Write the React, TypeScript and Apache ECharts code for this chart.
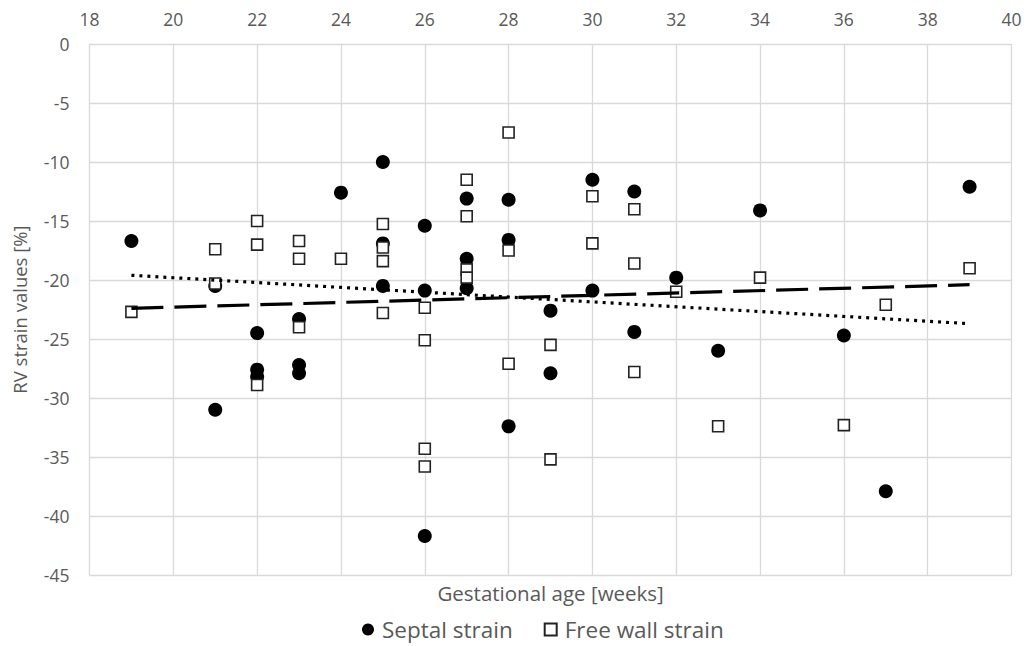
import React, { useEffect, useRef } from "react";
import * as echarts from "echarts";

// Gestational age ticks
const xTicksMin = 18;
const xTicksMax = 40;
const xTickStep = 2;
const yMin = -45;
const yMax = 0;
const yStep = 5;

// Septal strain (filled circles)
const septalWeeks = [19, 21, 21, 22, 22, 22, 23, 23, 23, 24, 25, 25, 25, 26, 26, 26, 27, 27, 27, 28, 28, 28, 29, 29, 30, 30, 31, 31, 32, 33, 34, 36, 37, 39];
const septalValues = [-16.7, -20.5, -31.0, -24.5, -27.6, -28.2, -23.3, -27.2, -27.9, -12.6, -10.0, -16.9, -20.5, -15.4, -20.9, -41.7, -13.1, -18.2, -20.7, -13.2, -16.6, -32.4, -22.6, -27.9, -11.5, -20.9, -12.5, -24.4, -19.8, -26.0, -14.1, -24.7, -37.9, -12.1];

// Free wall strain (open squares)
const freeWeeks = [19, 21, 21, 22, 22, 22, 23, 23, 23, 24, 25, 25, 25, 25, 26, 26, 26, 26, 27, 27, 27, 27, 28, 28, 28, 29, 29, 30, 30, 31, 31, 31, 32, 33, 34, 36, 37, 39];
const freeValues = [-22.7, -17.4, -20.3, -15.0, -17.0, -28.9, -16.7, -18.2, -24.0, -18.2, -15.25, -17.25, -18.4, -22.8, -22.35, -25.1, -34.3, -35.8, -11.5, -14.6, -19.1, -19.8, -7.5, -17.5, -27.1, -25.5, -35.2, -12.9, -16.9, -14.0, -18.6, -27.8, -21.0, -32.4, -19.8, -32.3, -22.1, -19.0];

// Linear trend lines (end points)
const trendWeeks = [19, 39];
const septalTrend = [-22.4, -20.4];
const freeTrend = [-19.6, -23.7];

const seriesNames = ["Septal strain", "Free wall strain"];
const xAxisTitle = "Gestational age [weeks]";
const yAxisTitle = "RV strain values [%]";

const FONT = "'Open Sans', 'Noto Sans', sans-serif";
const TEXT = "#595959";
const GRID = "#d9d9d9";

const zip = (xs: number[], ys: number[]) => xs.map((x, i) => [x, ys[i]]);

export default function App() {
  const ref = useRef<HTMLDivElement>(null);
  useEffect(() => {
    if (!ref.current) return;
    const chart = echarts.init(ref.current, undefined, { renderer: "svg" });
    chart.setOption({
      animation: false,
      backgroundColor: "#ffffff",
      textStyle: { fontFamily: FONT },
      grid: { left: 89.5, right: 14.5, top: 44, bottom: 71, containLabel: false },
      legend: {
        data: seriesNames,
        bottom: 0,
        left: 357,
        itemGap: 31,
        itemWidth: 12,
        itemHeight: 12,
        textStyle: { color: TEXT, fontSize: 22.5, fontFamily: FONT, padding: [0, 0, 0, 3] },
      },
      graphic: [
        {
          type: "text",
          x: 550.6,
          y: 593,
          style: {
            text: xAxisTitle,
            fill: TEXT,
            font: `20.5px ${FONT}`,
            textAlign: "center",
            textVerticalAlign: "middle",
          },
        },
      ],
      xAxis: {
        type: "value",
        position: "top",
        min: xTicksMin,
        max: xTicksMax,
        interval: xTickStep,
        axisLine: { show: false },
        axisTick: { show: false },
        axisLabel: { color: TEXT, fontSize: 17.5, margin: 16, fontFamily: FONT },
        splitLine: { show: true, lineStyle: { color: GRID, width: 1.3 } },
      },
      yAxis: {
        type: "value",
        min: yMin,
        max: yMax,
        interval: yStep,
        name: yAxisTitle,
        nameLocation: "middle",
        nameRotate: 90,
        nameGap: 61,
        nameTextStyle: { color: TEXT, fontSize: 18.5, fontFamily: FONT },
        axisLine: { show: false },
        axisTick: { show: false },
        axisLabel: { color: TEXT, fontSize: 17.5, margin: 20, fontFamily: FONT },
        splitLine: { show: true, lineStyle: { color: GRID, width: 1.3 } },
      },
      series: [
        {
          name: seriesNames[0],
          type: "scatter",
          symbol: "circle",
          symbolSize: 14,
          itemStyle: { color: "#000000", opacity: 1 },
          data: zip(septalWeeks, septalValues),
          z: 3,
        },
        {
          name: seriesNames[1],
          type: "scatter",
          symbol: "rect",
          symbolSize: 11,
          itemStyle: { color: "#ffffff", borderColor: "#222222", borderWidth: 1.6, opacity: 1 },
          data: zip(freeWeeks, freeValues),
          z: 4,
        },
        {
          name: "Septal trend",
          type: "line",
          symbol: "none",
          lineStyle: { color: "#000000", width: 3.2, type: [32, 11] },
          data: zip(trendWeeks, septalTrend),
          z: 5,
        },
        {
          name: "Free wall trend",
          type: "line",
          symbol: "none",
          lineStyle: { color: "#000000", width: 3.2, type: [3, 5] },
          data: zip(trendWeeks, freeTrend),
          z: 5,
        },
      ],
    });
    return () => chart.dispose();
  }, []);
  return (
    <div
      ref={ref}
      style={{ position: "fixed", left: 0, top: 0, width: 1026, height: 646, background: "#fff" }}
    />
  );
}
